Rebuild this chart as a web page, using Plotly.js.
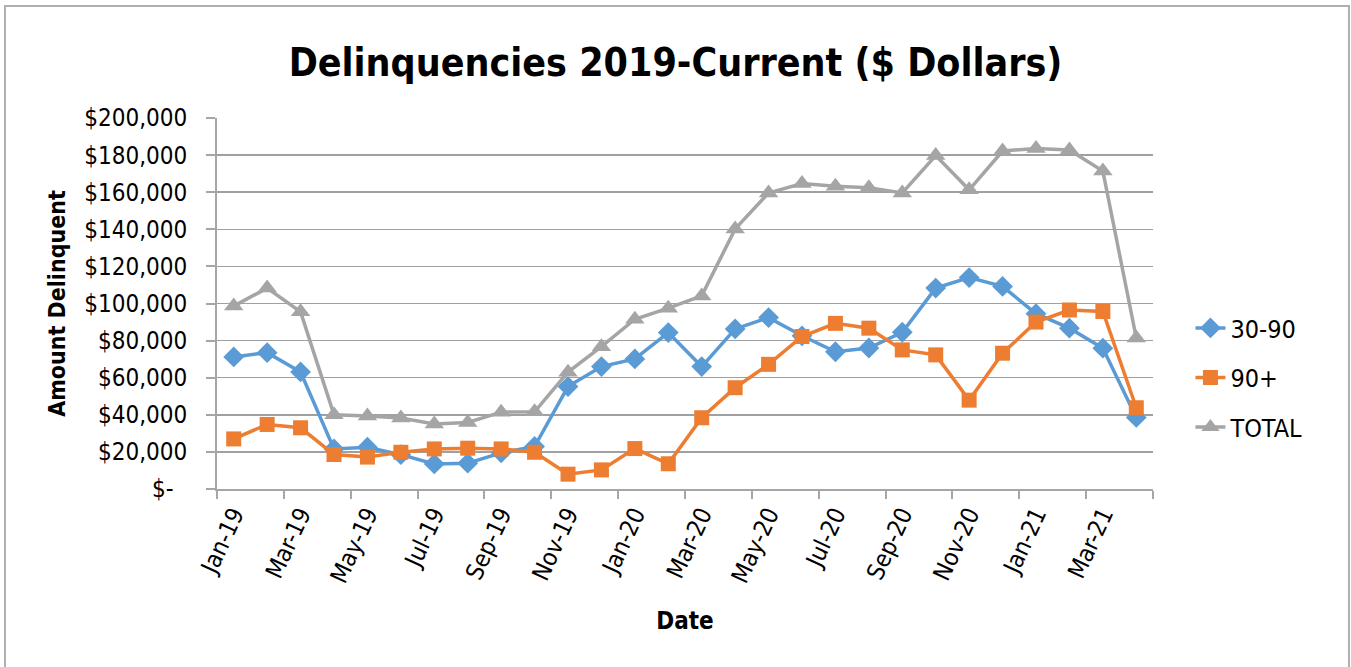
<!DOCTYPE html>
<html>
<head>
<meta charset="utf-8">
<script src="https://cdn.plot.ly/plotly-3.0.1.min.js"></script>
<style>
  html, body { margin: 0; padding: 0; background: #ffffff; }
  #wrap { position: relative; width: 1351px; height: 667px; overflow: hidden; }
  #chart { position: absolute; left: 0; top: 0; width: 1351px; height: 667px; }
  #frame { position: absolute; left: 4px; top: 5px; width: 1342px; height: 700px;
           border: 2px solid #b0b0b0; pointer-events: none; }
</style>
</head>
<body>
<div id="wrap">
  <div id="chart"></div>
  <div id="frame"></div>
</div>
<script>
// Monthly categories Jan-19 .. Apr-21
const months = ['Jan-19','Feb-19','Mar-19','Apr-19','May-19','Jun-19','Jul-19','Aug-19','Sep-19','Oct-19','Nov-19','Dec-19',
                'Jan-20','Feb-20','Mar-20','Apr-20','May-20','Jun-20','Jul-20','Aug-20','Sep-20','Oct-20','Nov-20','Dec-20',
                'Jan-21','Feb-21','Mar-21','Apr-21'];

const series3090 = [71200, 73500, 63100, 21600, 22500, 18500, 13500, 13900, 19500, 22900, 55200, 66000,
                    70100, 84300, 66000, 86300, 92400, 82600, 74000, 76000, 84500, 108300, 114000, 109200,
                    94500, 86700, 75900, 38600];

const series90p  = [27000, 34800, 33000, 18600, 17200, 19800, 21600, 22000, 21600, 19800, 8000, 10300,
                    21800, 13600, 38400, 54600, 67200, 82200, 89300, 86700, 75000, 72300, 47900, 73200,
                    90000, 96500, 95700, 43800];

const seriesTotal = [98600, 108300, 95500, 40000, 39300, 38300, 35100, 35900, 41400, 41600, 63000, 76700,
                     91500, 97500, 104100, 140200, 159600, 164700, 163200, 162400, 159600, 179800, 161300, 182200,
                     183600, 182700, 171400, 81400];

const seriesNames = ['30-90', '90+', 'TOTAL'];
const seriesColors = ['#5B9BD5', '#ED7D31', '#A5A5A5'];
const seriesSymbols = ['diamond', 'square', 'triangle-up'];

// Axis tick labels (every second month)
const xTickLabels = ['Jan-19','Mar-19','May-19','Jul-19','Sep-19','Nov-19','Jan-20','Mar-20','May-20','Jul-20','Sep-20','Nov-20','Jan-21','Mar-21'];
const yTickValues = [0, 20000, 40000, 60000, 80000, 100000, 120000, 140000, 160000, 180000, 200000];
const yTickLabels = ['$-\u00a0\u00a0', '$20,000', '$40,000', '$60,000', '$80,000', '$100,000', '$120,000', '$140,000', '$160,000', '$180,000', '$200,000'];

const xIdx = months.map((m, i) => i);
const xTickVals = xTickLabels.map((t, i) => i * 2);

const FONT = "'Liberation Sans Narrow', 'DejaVu Sans Condensed', 'Open Sans', sans-serif";

const allSeries = [series3090, series90p, seriesTotal];
const markerSizes = [16, 15, 17];
const traces = allSeries.map((ys, k) => ({
  type: 'scatter',
  mode: 'lines+markers',
  name: seriesNames[k],
  legendgroup: 'g' + k,
  x: xIdx,
  y: ys,
  text: months,
  line: { color: seriesColors[k], width: 3.5 },
  marker: { symbol: seriesSymbols[k], color: seriesColors[k], size: markerSizes[k], line: { width: 0 } }
}));

const layout = {
  width: 1351,
  height: 667,
  paper_bgcolor: '#ffffff',
  plot_bgcolor: '#ffffff',
  font: { family: FONT, color: '#000000', size: 24 },
  margin: { l: 217, r: 198, t: 118, b: 178, pad: 0 },
  title: {
    text: '<b>Delinquencies 2019-Current ($ Dollars)</b>',
    font: { family: FONT, size: 39, color: '#000000' },
    x: 0.5, xref: 'container', xanchor: 'center',
    y: 1 - 62 / 667, yref: 'container', yanchor: 'middle'
  },
  xaxis: {
    range: [-0.5, 27.5],
    tickmode: 'array',
    tickvals: xTickVals,
    ticktext: xTickLabels,
    tickangle: -65,
    ticks: '',
    minor: { tickmode: 'linear', tick0: -0.5, dtick: 2, ticks: 'outside', ticklen: 8, tickwidth: 2, tickcolor: '#a6a6a6', showgrid: false },
    showline: true,
    linecolor: '#a6a6a6',
    linewidth: 2,
    showgrid: false,
    zeroline: false,
    tickfont: { family: FONT, size: 24, color: '#000000' },
    title: { text: '<b>Date</b>', font: { family: FONT, size: 24, color: '#000000' }, standoff: 26 },
    automargin: false
  },
  yaxis: {
    range: [0, 200000],
    tickmode: 'array',
    tickvals: yTickValues,
    ticktext: yTickLabels,
    ticks: 'outside',
    ticklen: 9,
    tickwidth: 2,
    tickcolor: '#a6a6a6',
    ticklabelstandoff: 14,
    showline: true,
    linecolor: '#a6a6a6',
    linewidth: 2,
    showgrid: true,
    gridcolor: '#a0a0a0',
    gridwidth: 1.5,
    zeroline: false,
    tickfont: { family: FONT, size: 24, color: '#000000' },
    title: { text: '<b>Amount Delinquent</b>', font: { family: FONT, size: 23, color: '#000000' }, standoff: 12 },
    automargin: false
  },
  showlegend: true,
  legend: {
    x: 1.04, xanchor: 'left',
    y: 0.30, yanchor: 'middle',
    font: { family: FONT, size: 25, color: '#000000' },
    tracegroupgap: 14,
    bgcolor: 'rgba(0,0,0,0)'
  }
};

Plotly.newPlot('chart', traces, layout, { displayModeBar: false, staticPlot: true });
</script>
</body>
</html>
